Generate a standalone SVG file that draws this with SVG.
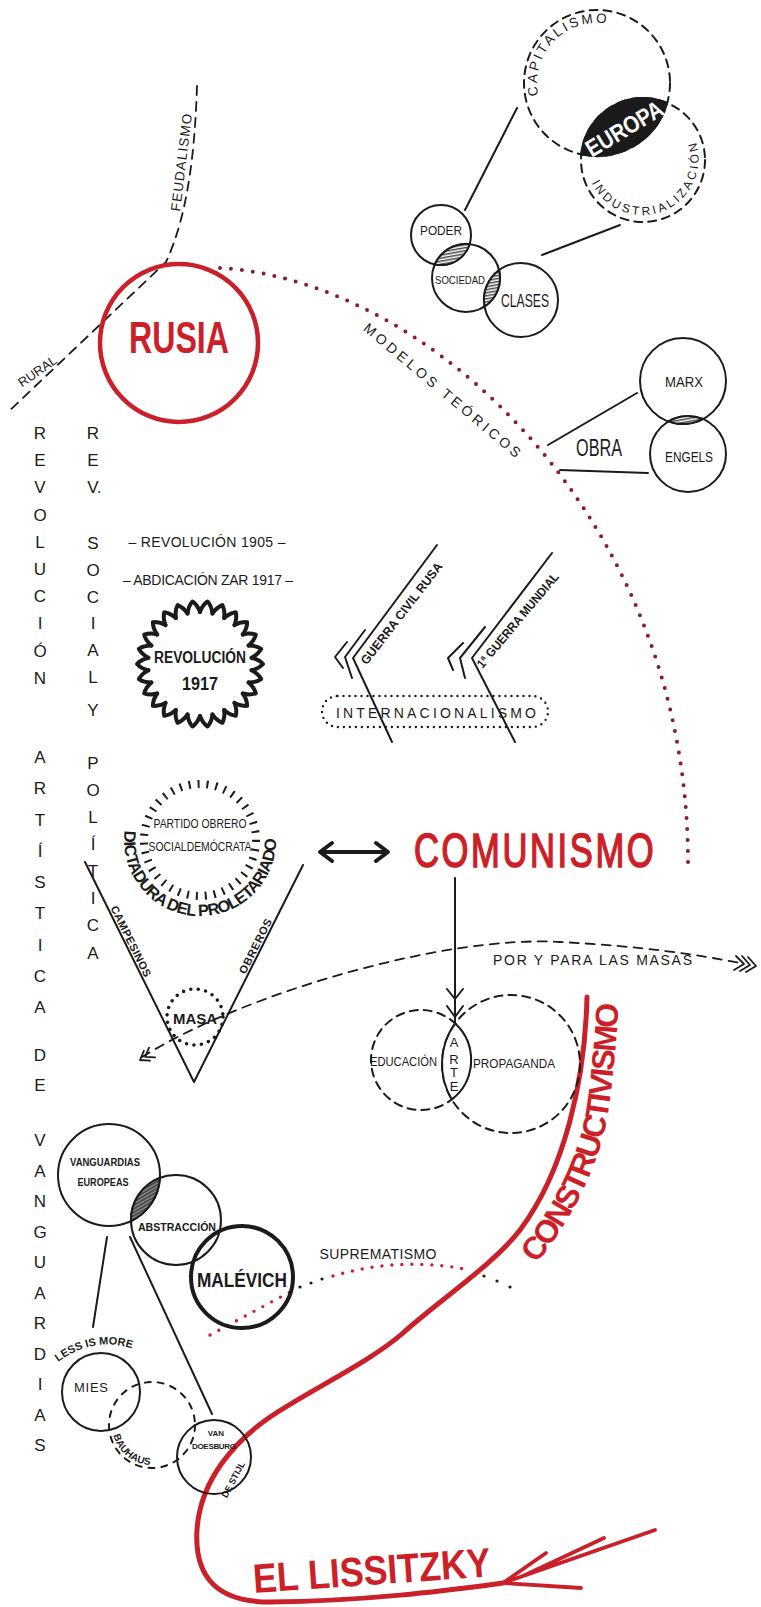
<svg xmlns="http://www.w3.org/2000/svg" width="761" height="1607" viewBox="0 0 761 1607">
<defs>
<style>
.ink{fill:none;stroke:#1b1b1b;stroke-width:2;stroke-linecap:round;stroke-linejoin:round}
.wh{fill:#fff}
.dash{stroke-dasharray:8 6}
.red{fill:none;stroke:#c9202a;stroke-width:4.5;stroke-linecap:round;stroke-linejoin:round}
.maroon{fill:none;stroke:#8d1b2c;stroke-width:4;stroke-linecap:round;stroke-dasharray:0 11}
.t{font-family:"Liberation Sans",Arial,sans-serif;fill:#1b1b1b}
.b{font-weight:bold}
.h{font-weight:900}
.rt{fill:#cc1f28}
.c{text-anchor:middle}
.col{font-size:17px}
</style>
<pattern id="hatch" patternUnits="userSpaceOnUse" width="3" height="3" patternTransform="rotate(80)">
<rect width="3" height="3" fill="#fff"/>
<line x1="0.8" y1="0" x2="0.8" y2="3" stroke="#1b1b1b" stroke-width="1.2"/>
</pattern>
<pattern id="hatchDark" patternUnits="userSpaceOnUse" width="3" height="3" patternTransform="rotate(60)">
<rect width="3" height="3" fill="#8a8a8a"/>
<line x1="0.8" y1="0" x2="0.8" y2="3" stroke="#222" stroke-width="1.1"/>
</pattern>
<path id="tooth" d="M51.6,-6.3 Q59,-4.5 63,0 Q59,4.5 51.6,6.3"/>
<path id="capPath" d="M538.3,95.5 A60,60 0 0 1 612.5,25"/>
<path id="indPath" d="M591.8,182.8 A56,56 0 1 0 693.3,135.4"/>
<path id="dictPath" d="M124.6,830.7 A76,76 0 1 0 275.9,836"/>
<path id="lessPath" d="M58,1362 Q97,1333 142,1352"/>
<path id="bauPath" d="M113.4,1435.4 A40,40 0 0 0 148.5,1464.8"/>
<path id="consPath" d="M536,1264 Q591,1196 607,1120 Q615,1070 619,998"/>
</defs>
<rect width="761" height="1607" fill="#fff"/>

<!-- connectors -->
<g id="connectors">
<path class="ink" d="M517,108 L465,210"/>
<path class="ink" d="M620,225 L542,255"/>
<path class="ink" d="M548,445 L637,393"/>
<path class="ink" d="M560,470 L648,473"/>
<path class="maroon" d="M220,268 C430,280 690,520 688,867"/>
<path class="ink" style="stroke-width:1.8" stroke-dasharray="9 7" d="M142,1057 C250,990 450,935 560,942 C640,946 700,955 740,963"/>
<path class="ink" style="stroke-width:1.8" d="M150,1060.6 L140,1060 L143.9,1050.8 M155.1,1057.4 L145.1,1056.8 L149,1047.6"/>
<path class="ink" style="stroke-width:1.8" d="M736,956 L744,964 L734,970 M742,956 L750,965 L740,971 M748,957 L756,966 L746,972"/>
<path class="ink" d="M455,878 L455,1022 M447,989 L455,999 L463,989 M447,1006 L455,1017 L463,1006"/>
<path class="ink" style="stroke-width:4" d="M322,852 L386,852 M332,843 L320,852 L332,861 M376,843 L388,852 L376,861"/>
<path class="ink" d="M107,1237 L93,1327"/>
<path class="ink" d="M130,1237 L212,1414"/>
<path fill="none" stroke="#c9202a" stroke-width="3.4" stroke-linecap="round" stroke-dasharray="0 10" d="M210,1335 L290,1292"/>
<path fill="none" stroke="#c9202a" stroke-width="3.4" stroke-linecap="round" stroke-dasharray="0 10" d="M333,1276 Q400,1256 470,1270"/>
<g fill="#1b1b1b">
<circle cx="300" cy="1287" r="1.6"/><circle cx="311" cy="1283" r="1.6"/><circle cx="322" cy="1279" r="1.6"/>
<circle cx="484" cy="1276" r="1.6"/><circle cx="497" cy="1281" r="1.6"/><circle cx="510" cy="1287" r="1.6"/>
</g>
<path class="red" style="stroke-width:5" d="M587,997 C585,1080 565,1170 520,1230 C495,1263 440,1300 403,1333 C370,1362 310,1390 270,1417 C235,1441 200,1480 197,1530 C194,1580 220,1602 270,1602 C370,1601 450,1590 503,1583"/>
<path class="red" style="stroke-width:3.8" d="M655,1530 L503,1583 L546,1553 M503,1583 L581,1588 M523,1576 L604,1538"/>
</g>

<!-- top right -->
<g id="capitalismo">
<circle class="ink dash" cx="597" cy="83" r="73"/>
<text class="t" font-size="13.5" letter-spacing="2.6"><textPath href="#capPath">CAPITALISMO</textPath></text>
</g>
<g id="industrializacion">
<circle class="ink dash" cx="643" cy="160" r="62"/>
<text class="t" font-size="12" letter-spacing="3"><textPath href="#indPath">INDUSTRIALIZACIÓN</textPath></text>
</g>
<g id="europa">
<path d="M581.2,154.3 A73,73 0 0 0 667.2,102.9 A62,62 0 0 0 581.2,154.3 Z" fill="#1b1b1b" stroke="#1b1b1b" stroke-width="2"/>
<text class="t h c" x="624" y="137" font-size="24" style="fill:#fff" textLength="86" lengthAdjust="spacingAndGlyphs" transform="rotate(-31 624 128)">EUROPA</text>
</g>
<g id="poder">
<circle class="ink wh" cx="441" cy="235" r="30"/>
<text class="t c" x="441" y="235" font-size="13" textLength="42" lengthAdjust="spacingAndGlyphs">PODER</text>
</g>
<g id="sociedad">
<circle class="ink" cx="466" cy="278" r="34"/>
<text class="t c" x="460" y="284" font-size="11" textLength="50" lengthAdjust="spacingAndGlyphs">SOCIEDAD</text>
</g>
<g id="clases">
<circle class="ink" cx="521" cy="300" r="37"/>
<text class="t c" x="525" y="307" font-size="18" textLength="48" lengthAdjust="spacingAndGlyphs">CLASES</text>
</g>
<g id="lenses-sociedad">
<path d="M434.8,264.4 A30,30 0 0 0 469.6,244.2 A34,34 0 0 0 434.8,264.4 Z" fill="url(#hatch)" stroke="#1b1b1b" stroke-width="2"/>
<path d="M499.1,270.1 A34,34 0 0 1 484.5,306.5 A37,37 0 0 1 499.1,270.1 Z" fill="url(#hatch)" stroke="#1b1b1b" stroke-width="2"/>
</g>

<!-- Rusia -->
<g id="feudalismo-rural">
<path class="ink" style="stroke-width:1.8" stroke-dasharray="9 7" d="M197,86 C195,150 188,215 166,262 L7,413"/>
<text class="t c" x="186" y="163" font-size="13.5" textLength="98" transform="rotate(-83 186 163)">FEUDALISMO</text>
<text class="t c" x="40" y="375" font-size="13" textLength="44" transform="rotate(-35 40 375)">RURAL</text>
</g>
<g id="rusia">
<circle cx="179" cy="343" r="79" fill="none" stroke="#c9202a" stroke-width="4.5"/>
<text class="t b c rt" x="179" y="353" font-size="44" textLength="100" lengthAdjust="spacingAndGlyphs">RUSIA</text>
</g>
<g id="modelos-teoricos">
<text class="t c" x="439" y="394" font-size="14" textLength="200" transform="rotate(40 439 394)">MODELOS TEÓRICOS</text>
</g>
<g id="marx">
<circle class="ink" cx="683" cy="381" r="43"/>
<text class="t c" x="684" y="387" font-size="14" textLength="38" lengthAdjust="spacingAndGlyphs">MARX</text>
</g>
<g id="engels">
<circle class="ink" cx="688" cy="454" r="38"/>
<text class="t c" x="689" y="462" font-size="14" textLength="48" lengthAdjust="spacingAndGlyphs">ENGELS</text>
</g>
<path d="M668.6,421.5 A43,43 0 0 0 702.8,419.1 A38,38 0 0 0 668.6,421.5 Z" fill="url(#hatch)" stroke="#1b1b1b" stroke-width="2"/>
<g id="obra">
<text class="t c" x="599" y="456" font-size="24" textLength="46" lengthAdjust="spacingAndGlyphs">OBRA</text>
</g>

<!-- left columns -->
<g id="col-revolucion-artistica" class="t c col">
<text x="40 40 40 40 40 40 40 40 40 40" y="439 466 493 521 548 575 602 629 657 684">REVOLUCIÓN</text>
<text x="40 40 40 40 40 40 40 40 40" y="763 794 826 857 888 919 951 982 1013">ARTÍSTICA</text>
<text x="40 40" y="1061 1091">DE</text>
<text x="40 40 40 40 40 40 40 40 40 40 40" y="1146 1177 1207 1238 1268 1299 1329 1360 1390 1421 1451">VANGUARDIAS</text>
</g>
<g id="col-rev-social-politica" class="t c col">
<text x="93 93 93 99" y="439 466 493 493">REV.</text>
<text x="93 93 93 93 93 93" y="549 576 603 629 656 683">SOCIAL</text>
<text x="93" y="716">Y</text>
<text x="93 93 93 93 93 93 93 93" y="769 796 823 850 877 904 931 959">POLÍTICA</text>
</g>

<g id="rev1905"><text class="t c" x="207" y="547" font-size="14" textLength="157">– REVOLUCIÓN 1905 –</text></g>
<g id="abdicacion"><text class="t c" x="208" y="585" font-size="14" textLength="170">– ABDICACIÓN ZAR 1917 –</text></g>
<g id="revolucion1917">
<g transform="translate(200,664)" class="ink" style="stroke-width:4">
<use href="#tooth"/>
<use href="#tooth" transform="rotate(13.846)"/><use href="#tooth" transform="rotate(27.692)"/><use href="#tooth" transform="rotate(41.538)"/>
<use href="#tooth" transform="rotate(55.385)"/><use href="#tooth" transform="rotate(69.231)"/><use href="#tooth" transform="rotate(83.077)"/>
<use href="#tooth" transform="rotate(96.923)"/><use href="#tooth" transform="rotate(110.769)"/><use href="#tooth" transform="rotate(124.615)"/>
<use href="#tooth" transform="rotate(138.462)"/><use href="#tooth" transform="rotate(152.308)"/><use href="#tooth" transform="rotate(166.154)"/>
<use href="#tooth" transform="rotate(180)"/><use href="#tooth" transform="rotate(193.846)"/><use href="#tooth" transform="rotate(207.692)"/>
<use href="#tooth" transform="rotate(221.538)"/><use href="#tooth" transform="rotate(235.385)"/><use href="#tooth" transform="rotate(249.231)"/>
<use href="#tooth" transform="rotate(263.077)"/><use href="#tooth" transform="rotate(276.923)"/><use href="#tooth" transform="rotate(290.769)"/>
<use href="#tooth" transform="rotate(304.615)"/><use href="#tooth" transform="rotate(318.462)"/><use href="#tooth" transform="rotate(332.308)"/>
<use href="#tooth" transform="rotate(346.154)"/>
</g>
<text class="t h c" x="200" y="663" font-size="16" textLength="92" lengthAdjust="spacingAndGlyphs">REVOLUCIÓN</text>
<text class="t h c" x="200" y="690" font-size="19" textLength="36" lengthAdjust="spacingAndGlyphs">1917</text>
</g>

<g id="guerra-civil-rusa">
<path class="ink" d="M437,545 L353,658 L392,742 M365,630 L345,657 L352,678 M347,642 L335,657 L343,668"/>
<text class="t b c" x="405" y="616" font-size="12.5" textLength="125" lengthAdjust="spacingAndGlyphs" transform="rotate(-52.3 405 616)">GUERRA CIVIL RUSA</text>
</g>
<g id="guerra-mundial">
<path class="ink" d="M552,553 L472,658 L515,742 M485,627 L460,658 L465,678 M463,643 L448,658 L453,670"/>
<text class="t b c" x="521" y="623" font-size="12.5" textLength="120" lengthAdjust="spacingAndGlyphs" transform="rotate(-50 521 623)">1ª GUERRA MUNDIAL</text>
</g>
<g id="internacionalismo">
<rect x="322" y="696" width="226" height="31" rx="15.5" fill="none" stroke="#1b1b1b" stroke-width="2.4" stroke-linecap="round" stroke-dasharray="0 6"/>
<text class="t c" x="436" y="718" font-size="14" textLength="200">INTERNACIONALISMO</text>
</g>

<g id="partido-obrero">
<circle cx="200" cy="840" r="56" fill="none" stroke="#1b1b1b" stroke-width="8" stroke-dasharray="2 7"/>
<text class="t c" x="200" y="828" font-size="12" textLength="93" lengthAdjust="spacingAndGlyphs">PARTIDO OBRERO</text>
<text class="t c" x="200" y="851" font-size="12" textLength="103" lengthAdjust="spacingAndGlyphs">SOCIALDEMÓCRATA</text>
<text class="t h" font-size="16.5" letter-spacing="-0.8"><textPath href="#dictPath">DICTADURA DEL PROLETARIADO</textPath></text>
</g>
<g id="comunismo">
<text class="t rt" x="0" y="0" transform="translate(414,867) scale(0.72,1)" font-size="48" textLength="333" stroke="#cc1f28" stroke-width="1.6">COMUNISMO</text>
</g>
<g id="masa">
<path class="ink" d="M85,862 L194,1082 L303,865"/>
<text class="t b c" x="127.5" y="943" font-size="11" textLength="78" transform="rotate(63.6 127.5 943)">CAMPESINOS</text>
<text class="t b c" x="258.8" y="948" font-size="11" textLength="60" transform="rotate(-63.3 258.8 948)">OBREROS</text>
<circle cx="195" cy="1017" r="28" fill="none" stroke="#1b1b1b" stroke-width="3.6" stroke-linecap="round" stroke-dasharray="0 7.5"/>
<text class="t h c" x="195" y="1024" font-size="15" textLength="44" lengthAdjust="spacingAndGlyphs">MASA</text>
</g>
<g id="por-para-masas">
<text class="t" x="493" y="965" font-size="14" textLength="199">POR Y PARA LAS MASAS</text>
</g>
<g id="educacion">
<circle class="ink dash" cx="421" cy="1060" r="50"/>
<text class="t c" x="403.5" y="1066" font-size="12" textLength="67" lengthAdjust="spacingAndGlyphs">EDUCACIÓN</text>
</g>
<g id="propaganda">
<circle class="ink dash" cx="511" cy="1064" r="69"/>
<text class="t c" x="514" y="1068" font-size="12" textLength="82" lengthAdjust="spacingAndGlyphs">PROPAGANDA</text>
</g>
<g id="arte">
<path d="M455.2,1023.4 A50,50 0 0 1 451.8,1099.4 A69,69 0 0 1 455.2,1023.4 Z" fill="#fff" stroke="#1b1b1b" stroke-width="2"/>
<text class="t c" font-size="13" x="454 454 454 454" y="1047 1064 1077 1091">ARTE</text>
</g>
<g id="constructivismo">
<text class="t b rt" font-size="32" letter-spacing="-2.4"><textPath href="#consPath">CONSTRUCTIVISMO</textPath></text>
</g>

<!-- vanguardias -->
<g id="vanguardias-europeas">
<circle class="ink" cx="109" cy="1175" r="51"/>
<text class="t b c" x="105" y="1166" font-size="10" textLength="70" lengthAdjust="spacingAndGlyphs">VANGUARDIAS</text>
<text class="t b c" x="103" y="1186" font-size="10" textLength="51" lengthAdjust="spacingAndGlyphs">EUROPEAS</text>
</g>
<g id="abstraccion">
<circle class="ink" cx="176" cy="1220" r="45"/>
<text class="t b c" x="177" y="1231" font-size="10.5" textLength="78" lengthAdjust="spacingAndGlyphs">ABSTRACCIÓN</text>
</g>
<path d="M130.9,1221.1 A51,51 0 0 0 159.9,1177.9 A45,45 0 0 0 130.9,1221.1 Z" fill="url(#hatchDark)" stroke="#1b1b1b" stroke-width="2"/>
<g id="malevich">
<circle cx="242" cy="1277" r="51" fill="none" stroke="#1b1b1b" stroke-width="4"/>
<text class="t h c" x="242" y="1287" font-size="21" textLength="90" lengthAdjust="spacingAndGlyphs">MALÉVICH</text>
</g>
<g id="suprematismo">
<text class="t c" x="378" y="1259" font-size="14" textLength="117">SUPREMATISMO</text>
</g>
<g id="mies">
<circle class="ink" cx="101" cy="1392" r="39"/>
<text class="t c" x="91" y="1392" font-size="13" textLength="34">MIES</text>
<text class="t b" font-size="11"><textPath href="#lessPath">LESS IS MORE</textPath></text>
</g>
<g id="bauhaus">
<circle class="ink" cx="152" cy="1425" r="43" stroke-dasharray="6 7"/>
<text class="t b" font-size="10"><textPath href="#bauPath">BAUHAUS</textPath></text>
</g>
<g id="van-doesburg">
<circle class="ink" cx="214" cy="1457" r="37"/>
<text class="t b c" x="216" y="1436" font-size="8">VAN</text>
<text class="t b c" x="214" y="1449" font-size="8" textLength="44">DOESBURG</text>
<text class="t b c" x="236" y="1481" font-size="9" transform="rotate(-62 236 1481)">DE STIJL</text>
</g>
<g id="el-lissitzky">
<text class="t b rt" x="254" y="1593" font-size="41" textLength="238" lengthAdjust="spacingAndGlyphs" transform="rotate(-4 254 1593)">EL LISSITZKY</text>
</g>
</svg>
